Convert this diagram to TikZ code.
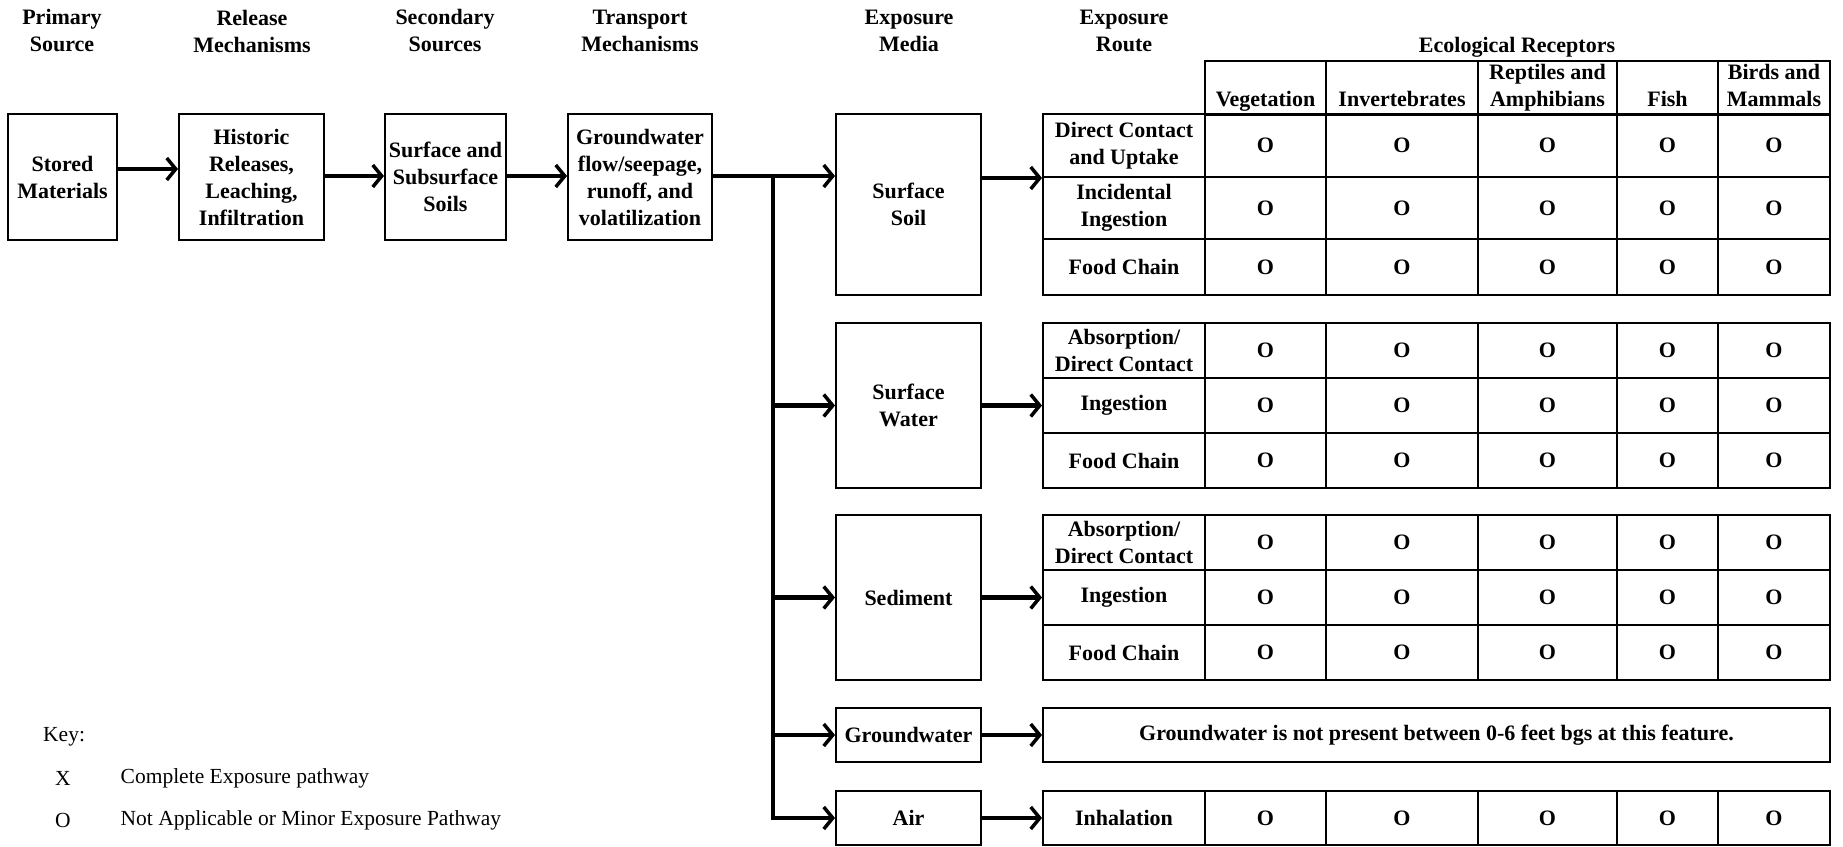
\documentclass[tikz,border=0pt]{standalone}
\usepackage{fontspec}
\setmainfont{Liberation Serif}
\usetikzlibrary{arrows.meta}
\newcommand{\exprow}[4]{% name, center y, height, route text
  \node[cell, minimum width=162pt, minimum height=#3pt] (#1r) at (1124,#2) {#4};
  \foreach \cx/\cw [count=\i] in {1265.5/121pt,1402/152pt,1547.5/139pt,1667.5/101pt,1774/112pt}
    \node[cell, minimum width=\cw, minimum height=#3pt] (#1c\i) at (\cx,#2) {O};
}
\begin{document}
\begin{tikzpicture}[x=1pt,y=-1pt,
  every node/.style={font=\bfseries\fontsize{22}{27}\selectfont, align=center, inner sep=0pt},
  box/.style={draw, line width=2pt, minimum width=145pt},
  cell/.style={draw, line width=2pt},
  keytxt/.style={font=\fontsize{21.5}{26}\selectfont},
  arr/.style={line width=4.5pt, -{Straight Barb[length=9pt,width=22pt,line width=3.5pt]}},
  trunk/.style={line width=4.5pt}]
\useasboundingbox (0,0) rectangle (1843,846);

% headers
\node (h1) at (62,31) {Primary\\Source};
\node (h2) at (252,31) {Release\\Mechanisms};
\node (h3) at (445,31) {Secondary\\Sources};
\node (h4) at (640,31) {Transport\\Mechanisms};
\node (h5) at (909,31) {Exposure\\Media};
\node (h6) at (1124,31) {Exposure\\Route};
\node (h7) at (1517,47) {Ecological Receptors};

% source chain
\node[box, minimum width=109pt, minimum height=126pt] (stored) at (62.5,177) {Stored\\Materials};
\node[box, minimum width=145pt, minimum height=126pt] (release) at (251.5,177) {Historic\\Releases,\\Leaching,\\Infiltration};
\node[box, minimum width=121pt, minimum height=126pt] (secondary) at (445.5,177) {Surface and\\Subsurface\\Soils};
\node[box, minimum width=144pt, minimum height=126pt] (transport) at (640,177) {Groundwater\\flow/seepage,\\runoff, and\\volatilization};

\draw[arr] ([yshift=8pt]stored.east) -- ([yshift=8pt]release.west);
\draw[arr] ([yshift=1pt]release.east) -- ([yshift=1pt]secondary.west);
\draw[arr] ([yshift=1pt]secondary.east) -- ([yshift=1pt]transport.west);

% exposure media
\node[box, minimum height=181pt] (ssoil) at (908.5,204.5) {Surface\\Soil};
\node[box, minimum height=165pt] (swater) at (908.5,405.5) {Surface\\Water};
\node[box, minimum height=165pt] (sed) at (908.5,597.5) {Sediment};
\node[box, minimum height=54pt] (gw) at (908.5,735) {Groundwater};
\node[box, minimum height=54pt] (air) at (908.5,818) {Air};

% receptor header row
\node[cell, minimum width=121pt, minimum height=53pt] (hveg) at (1265.5,87.5) {\strut\\\strut Vegetation};
\node[cell, minimum width=152pt, minimum height=53pt] (hinv) at (1402,87.5) {\strut\\\strut Invertebrates};
\node[cell, minimum width=139pt, minimum height=53pt] (hrep) at (1547.5,87.5) {\strut Reptiles and\\\strut Amphibians};
\node[cell, minimum width=101pt, minimum height=53pt] (hfish) at (1667.5,87.5) {\strut\\\strut Fish};
\node[cell, minimum width=112pt, minimum height=53pt] (hbird) at (1774,87.5) {\strut Birds and\\\strut Mammals};

% tables
\exprow{sa}{145.5}{63}{Direct Contact\\and Uptake}
\exprow{sb}{208}{62}{Incidental\\Ingestion}
\exprow{sc}{267}{56}{Food Chain}
\exprow{wa}{350.5}{55}{Absorption/\\Direct Contact}
\exprow{wb}{405.5}{55}{Ingestion}
\exprow{wc}{460.5}{55}{Food Chain}
\exprow{da}{542.5}{55}{Absorption/\\Direct Contact}
\exprow{db}{597.5}{55}{Ingestion}
\exprow{dc}{652.5}{55}{Food Chain}
\exprow{aa}{818}{54}{Inhalation}
\node[cell, minimum width=787pt, minimum height=54pt] (gwnote) at (1436.5,735) {Groundwater is not present between 0-6 feet bgs at this feature.};

% transport trunk
\coordinate (tj) at (773,176);
\draw[arr] ([yshift=1pt]transport.east) -- ([yshift=1pt]transport.east -| ssoil.west);
\draw[trunk] (tj) -- (tj |- swater.west);
\draw[arr] (tj |- swater.west) -- (swater.west);
\draw[arr] (tj |- sed.west) -- (sed.west);
\draw[arr] (tj |- gw.west) -- (gw.west);
\draw[arr] (tj) |- (air.west);

% media to routes
\draw[arr] (ssoil.east |- sar.south west) -- (sar.south west);
\draw[arr] (swater.east) -- (wbr.west);
\draw[arr] (sed.east) -- (dbr.west);
\draw[arr] (gw.east) -- (gwnote.west);
\draw[arr] (air.east) -- (aar.west);

% key
\node[keytxt, anchor=west] (key) at (43,737) {Key:};
\node[keytxt] (kx) at (63,778) {X};
\node[keytxt, anchor=west] (kxt) at (120.5,778) {Complete Exposure pathway};
\node[keytxt] (ko) at (63,820) {O};
\node[keytxt, anchor=west] (kot) at (120.5,820) {Not Applicable or Minor Exposure Pathway};
\end{tikzpicture}
\end{document}
